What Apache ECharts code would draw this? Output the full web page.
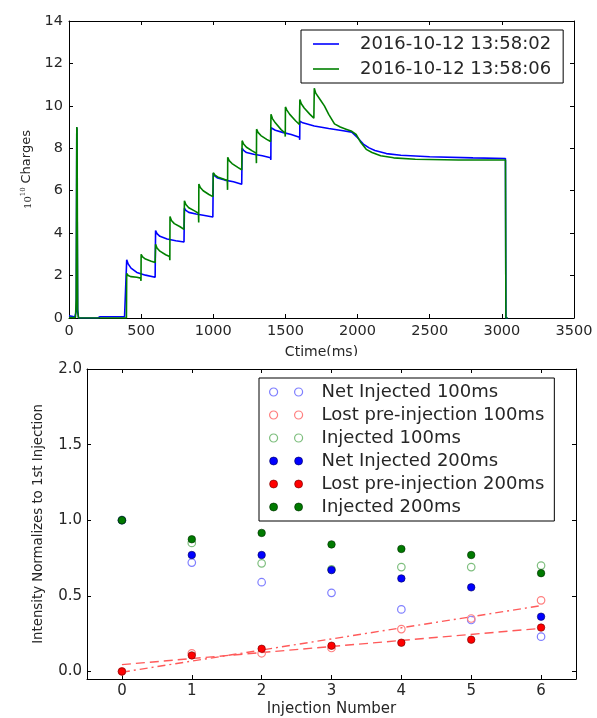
<!DOCTYPE html>
<html>
<head>
<meta charset="utf-8">
<script src="https://cdn.jsdelivr.net/npm/echarts@6/dist/echarts.min.js"></script>
<style>
html,body{margin:0;padding:0;background:#fff;}
#chart{width:597px;height:718px;}
</style>
</head>
<body>
<div id="chart"></div>
<script>
// ---------- Top chart data (Ctime in ms, charges in 1e10) ----------
const blueLabel = '2016-10-12 13:58:02';
const greenLabel = '2016-10-12 13:58:06';
const blueTime = [0, 20, 40, 50, 54, 56, 60, 66, 80, 200, 215, 385, 398, 400, 410, 430, 470, 530, 597, 599, 600, 610, 630, 680, 740, 797, 799, 800, 810, 830, 880, 940, 997, 999, 1000, 1010, 1030, 1080, 1140, 1197, 1199, 1200, 1210, 1230, 1280, 1340, 1397, 1399, 1400, 1410, 1430, 1480, 1540, 1597, 1599, 1600, 1620, 1700, 1800, 1900, 1960, 2000, 2040, 2080, 2120, 2200, 2300, 2500, 2800, 3025, 3028, 3040];
const blueCharge = [0.1, 0.08, 0.05, 0.3, 8.98, 8.9, 0.4, 0.0, 0.0, 0.0, 0.06, 0.06, 0.06, 2.75, 2.55, 2.35, 2.15, 2.02, 1.92, 1.83, 4.12, 3.98, 3.85, 3.72, 3.64, 3.58, 3.5, 5.17, 5.07, 4.98, 4.9, 4.83, 4.76, 4.7, 6.82, 6.7, 6.6, 6.5, 6.42, 6.3, 6.22, 8.0, 7.9, 7.8, 7.72, 7.65, 7.55, 7.45, 8.97, 8.93, 8.85, 8.75, 8.65, 8.52, 8.4, 9.28, 9.2, 9.05, 8.93, 8.83, 8.76, 8.5, 8.2, 8.02, 7.9, 7.75, 7.67, 7.6, 7.55, 7.52, 0, 0];
const greenTime = [0, 45, 50, 54, 56, 60, 66, 80, 398, 400, 410, 430, 470, 497, 499, 500, 510, 530, 570, 597, 600, 610, 630, 670, 697, 699, 700, 710, 730, 770, 797, 800, 810, 830, 870, 897, 899, 900, 910, 930, 970, 997, 1000, 1010, 1030, 1070, 1097, 1099, 1100, 1110, 1130, 1170, 1197, 1200, 1210, 1230, 1270, 1297, 1299, 1300, 1310, 1330, 1370, 1397, 1400, 1410, 1430, 1470, 1497, 1499, 1500, 1510, 1530, 1570, 1597, 1600, 1610, 1630, 1670, 1697, 1700, 1710, 1740, 1770, 1800, 1840, 1880, 1920, 1960, 1990, 2020, 2060, 2100, 2160, 2250, 2400, 2700, 3025, 3028, 3040];
const greenCharge = [0.02, 0.02, 0.9, 9.0, 8.9, 0.3, 0.0, 0.0, 0.0, 2.1, 2.0, 1.95, 1.92, 1.88, 1.75, 3.0, 2.88, 2.78, 2.68, 2.62, 3.47, 3.3, 3.15, 2.98, 2.9, 2.72, 4.78, 4.6, 4.45, 4.3, 4.18, 5.53, 5.35, 5.2, 5.05, 4.94, 4.5, 6.32, 6.15, 6.0, 5.82, 5.72, 6.85, 6.75, 6.65, 6.55, 6.48, 6.04, 7.58, 7.42, 7.28, 7.1, 6.98, 8.36, 8.2, 8.05, 7.88, 7.77, 7.3, 8.9, 8.75, 8.6, 8.42, 8.32, 9.6, 9.4, 9.2, 8.88, 8.72, 8.55, 9.95, 9.8, 9.6, 9.3, 9.12, 10.3, 10.1, 9.9, 9.6, 9.42, 10.83, 10.6, 10.3, 10.0, 9.6, 9.15, 9.0, 8.9, 8.8, 8.65, 8.3, 7.95, 7.8, 7.65, 7.55, 7.48, 7.45, 7.45, 0, 0];

// ---------- Bottom chart data ----------
const injectionNumber = [0, 1, 2, 3, 4, 5, 6];
const netInjected100 = [1.0, 0.72, 0.59, 0.52, 0.41, 0.34, 0.23];
const lostPreInjection100 = [0.0, 0.12, 0.12, 0.155, 0.28, 0.35, 0.47];
const injected100 = [1.0, 0.85, 0.715, 0.675, 0.69, 0.69, 0.70];
const netInjected200 = [1.0, 0.77, 0.77, 0.67, 0.615, 0.556, 0.362];
const lostPreInjection200 = [0.0, 0.106, 0.15, 0.17, 0.19, 0.21, 0.29];
const injected200 = [1.0, 0.874, 0.916, 0.84, 0.81, 0.77, 0.65];
const fitX = [0, 6];
const fitLost100 = [-0.005, 0.435];
const fitLost200 = [0.045, 0.285];
const bottomYTicks = [0, 0.5, 1.0, 1.5, 2.0];
const bottomXTicks = [0, 1, 2, 3, 4, 5, 6];

const zip = (xs, ys) => xs.map((x, i) => [x, ys[i]]);
const FONT = 'DejaVu Sans';
const TXT = '#262626';

function frameAxis(opts) {
  return Object.assign({
    type: 'value',
    axisLine: { show: true, onZero: false, lineStyle: { color: '#000', width: 1 } },
    axisTick: { show: true, inside: true, length: 4, lineStyle: { color: '#000' } },
    axisLabel: { show: false },
    splitLine: { show: false }
  }, opts);
}

const chart = echarts.init(document.getElementById('chart'), null, { renderer: 'canvas' });

const twoDots = 'path://M0,4A4,4,0,1,1,8,4A4,4,0,1,1,0,4ZM25,4A4,4,0,1,1,33,4A4,4,0,1,1,25,4Z';
const scatterDefs = [
  { name: 'Net Injected 100ms', data: netInjected100, open: true, color: '#7f7fff' },
  { name: 'Lost pre-injection 100ms', data: lostPreInjection100, open: true, color: '#ff7f7f' },
  { name: 'Injected 100ms', data: injected100, open: true, color: '#7fbf7f' },
  { name: 'Net Injected 200ms', data: netInjected200, open: false, color: '#0000ff', border: '#00005a' },
  { name: 'Lost pre-injection 200ms', data: lostPreInjection200, open: false, color: '#ff0000', border: '#6a0000' },
  { name: 'Injected 200ms', data: injected200, open: false, color: '#007a00', border: '#002a00' }
];
function styleOf(d) {
  return d.open
    ? { color: 'rgba(255,255,255,0)', borderColor: d.color, borderWidth: 1.2, opacity: 1 }
    : { color: d.color, borderColor: d.border, borderWidth: 0.6, opacity: 1 };
}
const plainNum = v => String(v);

const option = {
  backgroundColor: '#fff',
  animation: false,
  textStyle: { fontFamily: FONT },
  graphic: [{
    type: 'rect', z: 5,
    shape: { x: 0, y: 356, width: 597, height: 362 },
    style: { fill: '#fff' }
  }],
  grid: [
    { left: 69, top: 21, width: 505, height: 297 },
    { left: 87, top: 369, width: 489, height: 311 }
  ],
  legend: [
    {
      left: 301, top: 30, orient: 'vertical', z: 20,
      borderColor: '#000', borderWidth: 1, borderRadius: 0,
      backgroundColor: '#fff',
      padding: [4, 12, 4, 12], itemGap: 5,
      itemWidth: 26, itemHeight: 1.6, icon: 'rect',
      textStyle: { fontFamily: FONT, fontSize: 18, color: TXT, lineHeight: 20, padding: [0, 0, 0, 16] },
      data: [blueLabel, greenLabel]
    },
    {
      left: 259, top: 378, orient: 'vertical', z: 20,
      borderColor: '#000', borderWidth: 1, borderRadius: 0,
      backgroundColor: '#fff',
      padding: [4, 10, 4, 10], itemGap: 3,
      itemWidth: 33, itemHeight: 8,
      textStyle: { fontFamily: FONT, fontSize: 18, color: TXT, lineHeight: 20, padding: [0, 0, 0, 14] },
      data: scatterDefs.map(d => ({ name: d.name, icon: twoDots, itemStyle: styleOf(d) }))
    }
  ],
  xAxis: [
    frameAxis({
      gridIndex: 0, position: 'bottom', min: 0, max: 3500, interval: 500,
      axisLabel: { show: true, margin: 6, fontFamily: FONT, fontSize: 14.5, color: TXT, formatter: plainNum },
      name: 'Ctime(ms)', nameLocation: 'middle', nameGap: 27,
      nameTextStyle: { fontFamily: FONT, fontSize: 14, color: TXT }
    }),
    frameAxis({ gridIndex: 0, position: 'top', min: 0, max: 3500, interval: 500 }),
    frameAxis({
      gridIndex: 1, position: 'bottom', min: -0.5, max: 6.5, z: 10,
      axisTick: { show: true, inside: true, length: 4, lineStyle: { color: '#000' }, customValues: bottomXTicks },
      axisLabel: { show: true, margin: 5, fontFamily: FONT, fontSize: 15, color: TXT, customValues: bottomXTicks, formatter: plainNum },
      name: 'Injection Number', nameLocation: 'middle', nameGap: 23,
      nameTextStyle: { fontFamily: FONT, fontSize: 15, color: TXT }
    }),
    frameAxis({
      gridIndex: 1, position: 'top', min: -0.5, max: 6.5, z: 10,
      axisTick: { show: true, inside: true, length: 4, lineStyle: { color: '#000' }, customValues: bottomXTicks }
    })
  ],
  yAxis: [
    frameAxis({
      gridIndex: 0, position: 'left', min: 0, max: 14, interval: 2,
      axisLabel: { show: true, margin: 6, fontFamily: FONT, fontSize: 14.5, color: TXT, formatter: plainNum },
      name: '{b|10}{s|10} {c|Charges}', nameLocation: 'middle', nameGap: 36,
      nameTextStyle: {
        fontFamily: FONT, color: TXT,
        rich: {
          b: { fontSize: 10, fontFamily: 'DejaVu Serif', color: TXT, verticalAlign: 'bottom' },
          s: { fontSize: 7, fontFamily: 'DejaVu Serif', color: TXT, verticalAlign: 'top', padding: [0, 0, 6, 0] },
          c: { fontSize: 13, fontFamily: FONT, color: TXT }
        }
      }
    }),
    frameAxis({ gridIndex: 0, position: 'right', min: 0, max: 14, interval: 2 }),
    frameAxis({
      gridIndex: 1, position: 'left', min: -0.05, max: 2.0, z: 10,
      axisTick: { show: true, inside: true, length: 4, lineStyle: { color: '#000' }, customValues: bottomYTicks },
      axisLabel: {
        show: true, margin: 5, fontFamily: FONT, fontSize: 15, color: TXT, customValues: bottomYTicks,
        formatter: v => Number(v).toFixed(1)
      },
      name: 'Intensity Normalizes to 1st Injection', nameLocation: 'middle', nameGap: 42,
      nameTextStyle: { fontFamily: FONT, fontSize: 13.3, color: TXT }
    }),
    frameAxis({
      gridIndex: 1, position: 'right', min: -0.05, max: 2.0, z: 10,
      axisTick: { show: true, inside: true, length: 4, lineStyle: { color: '#000' }, customValues: bottomYTicks }
    })
  ],
  series: [
    {
      name: blueLabel, type: 'line', xAxisIndex: 0, yAxisIndex: 0,
      data: zip(blueTime, blueCharge), symbol: 'none', showSymbol: false,
      lineStyle: { color: '#0000ff', width: 1.6 }, itemStyle: { color: '#0000ff' }, z: 2
    },
    {
      name: greenLabel, type: 'line', xAxisIndex: 0, yAxisIndex: 0,
      data: zip(greenTime, greenCharge), symbol: 'none', showSymbol: false,
      lineStyle: { color: '#008000', width: 1.6 }, itemStyle: { color: '#008000' }, z: 3
    },
    {
      name: 'fit lost 100', type: 'line', xAxisIndex: 2, yAxisIndex: 2, z: 11,
      data: zip(fitX, fitLost100), symbol: 'none', silent: true,
      lineStyle: { color: '#ff5a5a', width: 1.4, type: [8, 4, 2, 4] }
    },
    {
      name: 'fit lost 200', type: 'line', xAxisIndex: 2, yAxisIndex: 2, z: 11,
      data: zip(fitX, fitLost200), symbol: 'none', silent: true,
      lineStyle: { color: '#ff5a5a', width: 1.4, type: [9, 5] }
    }
  ].concat(scatterDefs.map((d, i) => ({
    name: d.name, type: 'scatter', xAxisIndex: 2, yAxisIndex: 2, z: 12 + i,
    data: zip(injectionNumber, d.data),
    symbol: 'circle', symbolSize: 7.5,
    itemStyle: styleOf(d),
    emphasis: { disabled: true }
  })))
};
chart.setOption(option);
</script>
</body>
</html>
